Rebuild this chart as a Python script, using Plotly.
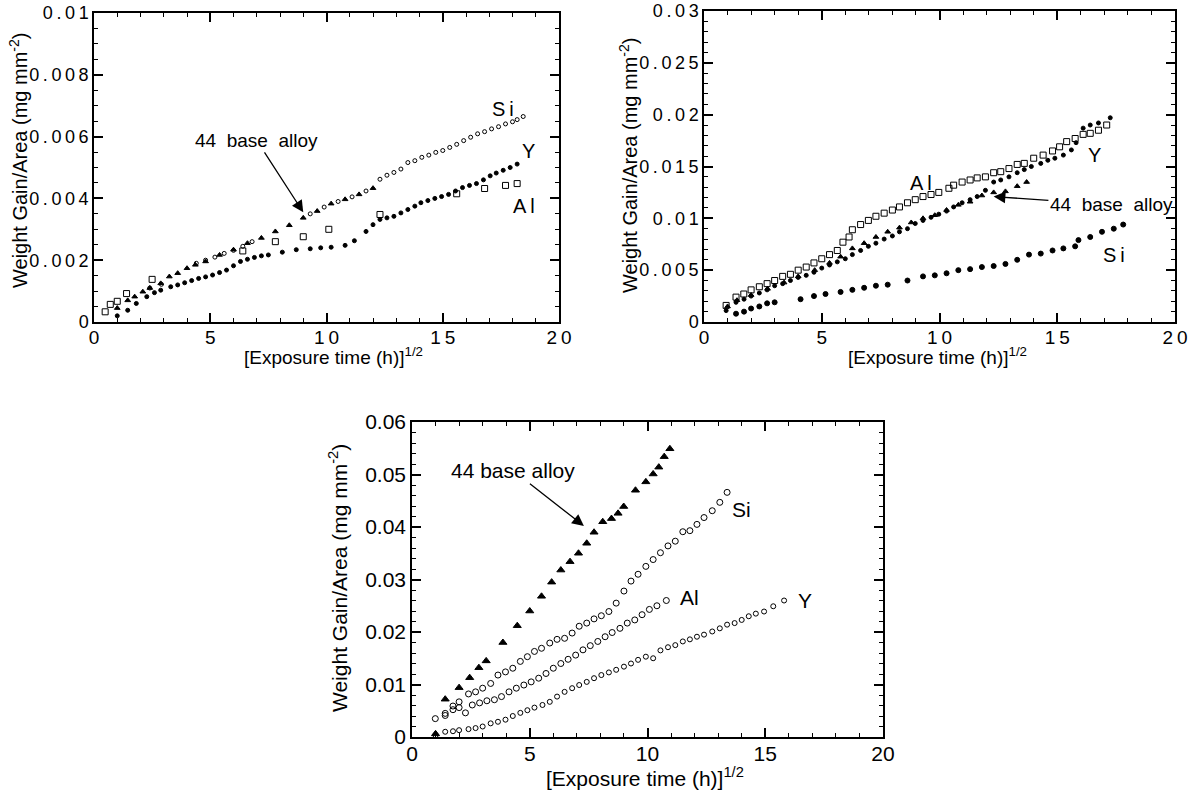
import plotly.graph_objects as go

# ---------------- Panel 1 data ----------------
p1_base_x = [1.0,1.45,1.75,2.1,2.4,2.87,3.24,3.6,4.0,4.36,4.8,5.4,6.0,6.6,7.2,7.8,8.4,9.0,9.6,10.2,10.8,11.4,12.0]
p1_base_y = [0.00045,0.0007,0.00082,0.00098,0.0011,0.00125,0.00147,0.00158,0.00174,0.00185,0.00196,0.00217,0.00234,0.00255,0.00272,0.00293,0.00313,0.00337,0.00359,0.00383,0.00397,0.00413,0.00433]
p1_si_x = [2.4,2.9,4.4,4.8,5.2,5.6,6.0,6.4,6.8,9.3,9.9,10.5,11.1,11.7,12.3,12.6,12.9,13.2,13.5,13.8,14.1,14.4,14.7,15.0,15.3,15.6,15.9,16.2,16.5,16.8,17.1,17.4,17.7,18.0,18.2,18.46]
p1_si_y = [0.0011,0.00122,0.0019,0.002,0.0021,0.00222,0.00232,0.00245,0.0026,0.0035,0.00372,0.0039,0.00405,0.00424,0.00462,0.00475,0.00484,0.00495,0.00516,0.00522,0.00533,0.0054,0.00549,0.00555,0.00565,0.00575,0.00587,0.00598,0.00609,0.00616,0.00625,0.00632,0.00641,0.00648,0.00655,0.00665]
p1_y_x = [1.0,1.45,1.82,2.27,2.6,2.87,3.3,3.6,3.9,4.2,4.5,4.8,5.1,5.4,5.7,6.0,6.3,6.6,6.9,7.2,7.5,8.1,8.7,9.3,9.75,10.2,10.8,11.2,11.7,12.0,12.3,12.6,12.9,13.2,13.5,13.8,14.06,14.36,14.66,14.95,15.25,15.55,15.85,16.15,16.45,16.75,17.04,17.3,17.6,17.9,18.2]
p1_y_y = [0.0002,0.00038,0.0006,0.00082,0.00095,0.00103,0.00114,0.0012,0.00127,0.00134,0.00141,0.00146,0.00152,0.0016,0.00168,0.00182,0.00196,0.00203,0.00209,0.00214,0.00217,0.00226,0.00234,0.00237,0.0024,0.00242,0.00248,0.00263,0.00293,0.00315,0.00332,0.00337,0.00342,0.00353,0.00364,0.00375,0.00386,0.00393,0.004,0.00406,0.00413,0.00424,0.00435,0.00442,0.00448,0.0046,0.00473,0.00482,0.00491,0.005,0.00511]
p1_al_x = [0.48,0.7,1.0,1.4,2.5,6.4,7.8,9.0,10.1,12.3,15.6,16.8,17.7,18.2]
p1_al_y = [0.00033,0.00057,0.00067,0.00092,0.00138,0.0023,0.0026,0.00276,0.003,0.00348,0.00415,0.00432,0.00442,0.00448]

# ---------------- Panel 2 data ----------------
p2_al_x = [0.94,1.36,1.69,2.0,2.35,2.68,3.0,3.34,3.67,4.0,4.34,4.67,5.0,5.33,5.66,5.9,6.16,6.3,6.65,6.98,7.3,7.65,8.0,8.3,8.64,8.97,9.3,9.64,9.97,10.4,10.6,10.96,11.3,11.6,11.95,12.3,12.6,12.95,13.3,13.6,14.0,14.4,14.8,15.1,15.4,15.76,16.1,16.4,16.75,17.1]
p2_al_y = [0.0016,0.0024,0.0027,0.0031,0.0034,0.0037,0.004,0.0044,0.0046,0.005,0.0053,0.0057,0.0061,0.0065,0.0069,0.0077,0.0082,0.0089,0.0094,0.0098,0.0102,0.0105,0.0108,0.0111,0.0115,0.0118,0.0121,0.0123,0.0125,0.0129,0.0132,0.0135,0.0137,0.0139,0.014,0.0144,0.0145,0.0148,0.0152,0.0153,0.0158,0.0161,0.0165,0.0169,0.0174,0.0177,0.0181,0.0182,0.0185,0.019]
p2_y_x = [0.94,1.36,1.7,2.0,2.35,2.68,3.0,3.34,3.67,4.0,4.34,4.67,5.0,5.33,5.66,6.0,6.3,6.65,6.98,7.3,7.65,8.0,8.3,8.64,8.97,9.3,9.64,9.97,10.3,10.6,10.96,11.3,11.6,11.95,12.3,12.6,12.95,13.3,13.6,13.9,14.3,14.6,14.9,15.26,15.6,15.8,16.1,16.4,16.75,17.25]
p2_y_y = [0.0011,0.0019,0.0022,0.0025,0.0028,0.0031,0.0035,0.0037,0.004,0.0043,0.0045,0.0048,0.0052,0.0055,0.0058,0.0061,0.0065,0.0069,0.0073,0.0076,0.008,0.0083,0.0087,0.009,0.0095,0.0098,0.0101,0.0104,0.0107,0.0111,0.0115,0.0118,0.0121,0.0127,0.0135,0.0137,0.014,0.0144,0.0147,0.015,0.0153,0.0156,0.0158,0.0161,0.0166,0.0173,0.0187,0.019,0.0192,0.0197]
p2_base_x = [1.0,1.4,2.0,2.7,3.4,4.0,4.7,5.33,5.8,6.3,6.8,7.3,7.8,8.3,8.8,9.3,9.8,10.3,10.8,11.3,11.8,12.3,12.8,13.3,13.7]
p2_base_y = [0.0015,0.0021,0.0026,0.0032,0.0038,0.0044,0.005,0.0057,0.0063,0.0071,0.0076,0.0082,0.0087,0.0091,0.0096,0.01,0.0103,0.0108,0.0113,0.0116,0.0122,0.0125,0.0126,0.0131,0.0135]
p2_si_x = [1.36,1.7,2.0,2.35,2.68,3.0,4.1,4.67,5.16,5.8,6.3,6.8,7.3,7.8,8.64,9.3,9.8,10.3,10.8,11.3,11.8,12.3,12.8,13.3,13.8,14.3,14.8,15.26,15.76,15.9,16.4,16.9,17.4,17.8]
p2_si_y = [0.0008,0.001,0.0013,0.0015,0.0018,0.0019,0.0022,0.0025,0.0027,0.0029,0.0031,0.0033,0.0035,0.0036,0.004,0.0044,0.0045,0.0047,0.005,0.0051,0.0053,0.0054,0.0056,0.006,0.0065,0.0066,0.0069,0.0071,0.0073,0.0079,0.0082,0.0087,0.009,0.0094]

# ---------------- Panel 3 data ----------------
p3_base_x = [1.0,1.41,2.0,2.45,2.84,3.15,3.86,4.47,5.0,5.5,5.93,6.32,6.71,7.07,7.42,7.73,8.1,8.47,8.75,8.99,9.49,9.93,10.24,10.48,10.71,10.95]
p3_base_y = [0.0006,0.0072,0.0094,0.0113,0.0132,0.0145,0.018,0.0212,0.024,0.0268,0.0295,0.0318,0.0334,0.035,0.0369,0.039,0.041,0.0416,0.0426,0.0439,0.047,0.0486,0.0501,0.0514,0.0534,0.0549]
p3_si_x = [0.99,1.41,1.74,2.0,2.4,2.7,3.0,3.34,3.65,3.97,4.28,4.6,4.9,5.2,5.5,5.85,6.16,6.48,6.8,7.1,7.42,7.73,8.04,8.36,8.67,9.0,9.3,9.6,9.93,10.24,10.55,10.87,11.18,11.5,11.8,12.1,12.4,12.75,13.07,13.38]
p3_si_y = [0.0035,0.0045,0.0059,0.0067,0.0082,0.0086,0.0093,0.0102,0.0118,0.0124,0.0131,0.0144,0.0153,0.0163,0.0169,0.0179,0.0186,0.0188,0.0198,0.0211,0.0217,0.0225,0.0231,0.0239,0.0255,0.0278,0.0297,0.031,0.0325,0.0338,0.0351,0.0364,0.0373,0.0391,0.0393,0.0405,0.0418,0.0431,0.0447,0.0466]
p3_al_x = [1.41,1.74,2.0,2.27,2.56,2.87,3.18,3.5,3.8,4.12,4.43,4.75,5.06,5.38,5.69,6.0,6.32,6.63,6.95,7.26,7.57,7.89,8.2,8.5,8.83,9.14,9.46,9.77,10.08,10.4,10.8]
p3_al_y = [0.0041,0.0052,0.0056,0.0046,0.0061,0.0065,0.0069,0.0071,0.0077,0.0086,0.0093,0.0099,0.0105,0.0112,0.0121,0.0131,0.014,0.0148,0.0156,0.0166,0.0174,0.0182,0.0191,0.0199,0.0207,0.0217,0.0223,0.0233,0.0243,0.025,0.026]
p3_y_x = [1.0,1.41,1.74,2.0,2.4,2.7,3.0,3.34,3.65,3.97,4.28,4.6,4.9,5.2,5.54,5.85,6.16,6.48,6.8,7.1,7.42,7.73,8.04,8.36,8.67,9.0,9.3,9.6,9.93,10.24,10.55,10.87,11.18,11.5,11.8,12.1,12.4,12.75,13.07,13.38,13.7,14.0,14.3,14.6,14.95,15.34,15.8]
p3_y_y = [0.0003,0.001,0.0011,0.0013,0.0015,0.0017,0.002,0.0026,0.0029,0.0033,0.004,0.0046,0.0051,0.0056,0.0061,0.0067,0.0077,0.0086,0.0093,0.0099,0.0105,0.0112,0.0118,0.0123,0.0128,0.0134,0.014,0.0147,0.0153,0.015,0.0165,0.0171,0.0175,0.0182,0.0186,0.0191,0.0195,0.0201,0.0207,0.0214,0.0217,0.0223,0.023,0.0235,0.0239,0.0249,0.026]

# tick labels
p1_yticks = [0, 0.002, 0.004, 0.006, 0.008, 0.01]
p1_ylabels = ["0", "0.002", "0.004", "0.006", "0.008", "0.01"]
p2_yticks = [0, 0.005, 0.01, 0.015, 0.02, 0.025, 0.03]
p2_ylabels = ["0", "0.005", "0.01", "0.015", "0.02", "0.025", "0.03"]
p3_yticks = [0, 0.01, 0.02, 0.03, 0.04, 0.05, 0.06]
p3_ylabels = ["0", "0.01", "0.02", "0.03", "0.04", "0.05", "0.06"]
xticks = [0, 5, 10, 15, 20]
xlabels = ["0", "5", "10", "15", "20"]
x_title = "[Exposure time (h)]<sup>1/2</sup>"
y_title = "Weight Gain/Area (mg mm<sup>-2</sup>)"

ts = "\u2009"
def spaced(s):
    return ts.join(list(s))

FONT = "Liberation Sans, Arial, Helvetica, sans-serif"
W, H = 1200, 796

def dx(px0, px1):
    return [px0 / W, px1 / W]

def dy(top, bottom):
    return [1 - bottom / H, 1 - top / H]

def px(x):
    return x / W

def py(y):
    return 1 - y / H

fig = go.Figure()

def add(x, y, xa, ya, symbol, size, fill=True, lw=1):
    fig.add_trace(go.Scatter(
        x=x, y=y, xaxis=xa, yaxis=ya, mode="markers", showlegend=False,
        marker=dict(symbol=symbol, size=size, color="black" if fill else "white",
                    line=dict(color="black", width=lw))))

# panel 1
add(p1_al_x, p1_al_y, "x", "y", "square-open", 6)
add(p1_y_x, p1_y_y, "x", "y", "circle", 4)
add(p1_base_x, p1_base_y, "x", "y", "triangle-up", 5)
add(p1_si_x, p1_si_y, "x", "y", "circle-open", 4)
# panel 2
add(p2_al_x, p2_al_y, "x2", "y2", "square-open", 6)
add(p2_y_x, p2_y_y, "x2", "y2", "circle", 4)
add(p2_base_x, p2_base_y, "x2", "y2", "triangle-up", 5)
add(p2_si_x, p2_si_y, "x2", "y2", "circle", 5)
# panel 3
add(p3_base_x, p3_base_y, "x3", "y3", "triangle-up", 7)
add(p3_si_x, p3_si_y, "x3", "y3", "circle-open", 6)
add(p3_al_x, p3_al_y, "x3", "y3", "circle-open", 6)
add(p3_y_x, p3_y_y, "x3", "y3", "circle-open", 5)

def common(fs):
    return dict(automargin=False, ticklabeloverflow="allow",
                ticks="inside", ticklen=9, tickwidth=1.5, tickcolor="black",
                showline=True, linecolor="black", linewidth=1.5, mirror="allticks",
                showgrid=False, zeroline=False,
                tickfont=dict(family=FONT, size=fs, color="black"))

def xaxis(domain, anchor, spaced_lbl, fs):
    return dict(domain=domain, anchor=anchor, range=[0, 20.0001], tickvals=xticks,
                ticktext=[spaced(t) for t in xlabels] if spaced_lbl else xlabels,
                ticklabelstandoff=-3,
                minor=dict(dtick=1, ticks="inside", ticklen=4, tickwidth=1.2, tickcolor="black"),
                **common(fs))

def yaxis(domain, anchor, rng, tv, tl, mdt, spaced_lbl, fs):
    return dict(domain=domain, anchor=anchor, range=rng, tickvals=tv,
                ticktext=[spaced(t) for t in tl] if spaced_lbl else tl,
                minor=dict(dtick=mdt, ticks="inside", ticklen=4, tickwidth=1.2, tickcolor="black"),
                **common(fs))

fig.update_layout(
    width=W, height=H, margin=dict(l=0, r=0, t=0, b=0),
    paper_bgcolor="white", plot_bgcolor="white",
    xaxis=xaxis(dx(94, 559), "y", True, 19),
    yaxis=yaxis(dy(13, 322), "x", [0, 0.0100001], p1_yticks, p1_ylabels, 0.0005, True, 18),
    xaxis2=xaxis(dx(704, 1175), "y2", True, 19),
    yaxis2=yaxis(dy(11, 322), "x2", [0, 0.0300001], p2_yticks, p2_ylabels, 0.001, True, 18),
    xaxis3=xaxis(dx(412, 883), "y3", False, 21),
    yaxis3=yaxis(dy(422, 737), "x3", [0, 0.0600001], p3_yticks, p3_ylabels, 0.002, False, 21),
)

# axis titles (page-pixel centres)
for cx, cy, fs in [(333, 356, 19), (937, 356, 19), (645, 777, 21)]:
    fig.add_annotation(x=px(cx), y=py(cy), xref="paper", yref="paper", text=x_title,
                       showarrow=False, font=dict(family=FONT, size=fs, color="black"),
                       xanchor="center", yanchor="middle")
for cx, cy, fs in [(18, 160, 20), (629, 165, 20), (338, 578, 21)]:
    fig.add_annotation(x=px(cx), y=py(cy), xref="paper", yref="paper", text=y_title,
                       showarrow=False, font=dict(family=FONT, size=fs, color="black"),
                       textangle=-90, xanchor="center", yanchor="middle")

def label(x, y, text, xr, yr, size=20):
    fig.add_annotation(x=x, y=y, xref=xr, yref=yr, text=text, showarrow=False,
                       font=dict(family=FONT, size=size, color="black"))

def arrow_label(x, y, ax, ay, xr, yr, text, size=19):
    # text sits at the tail (ax, ay); the arrow points to (x, y)
    fig.add_annotation(x=x, y=y, ax=ax, ay=ay, xref=xr, yref=yr, axref=xr, ayref=yr,
                       text=text, showarrow=True, arrowhead=2, arrowsize=1.8,
                       arrowwidth=1.3, arrowcolor="black", standoff=0,
                       font=dict(family=FONT, size=size, color="black"))

# panel 1 labels
label(17.6, 0.0069, spaced("Si"), "x", "y")
label(18.7, 0.00555, "Y", "x", "y")
label(18.5, 0.00375, spaced("Al"), "x", "y")
arrow_label(9.0, 0.00355, 7.0, 0.00588, "x", "y", "44&nbsp;&nbsp;base&nbsp;&nbsp;alloy")
# panel 2 labels
label(9.2, 0.01345, spaced("Al"), "x2", "y2")
label(16.6, 0.0161, "Y", "x2", "y2")
label(17.4, 0.0065, spaced("Si"), "x2", "y2")
arrow_label(12.3, 0.0121, 17.3, 0.0113, "x2", "y2", "44&nbsp;&nbsp;base&nbsp;&nbsp;alloy")
# panel 3 labels
label(14.0, 0.0434, "Si", "x3", "y3", 21)
label(11.8, 0.0265, "Al", "x3", "y3", 21)
label(16.7, 0.026, "Y", "x3", "y3", 21)
arrow_label(7.3, 0.0402, 4.3, 0.0507, "x3", "y3", "44 base alloy", 21)

fig.write_html("out.html", config={"displayModeBar": False},
               post_script="document.body.style.margin='0px';")
